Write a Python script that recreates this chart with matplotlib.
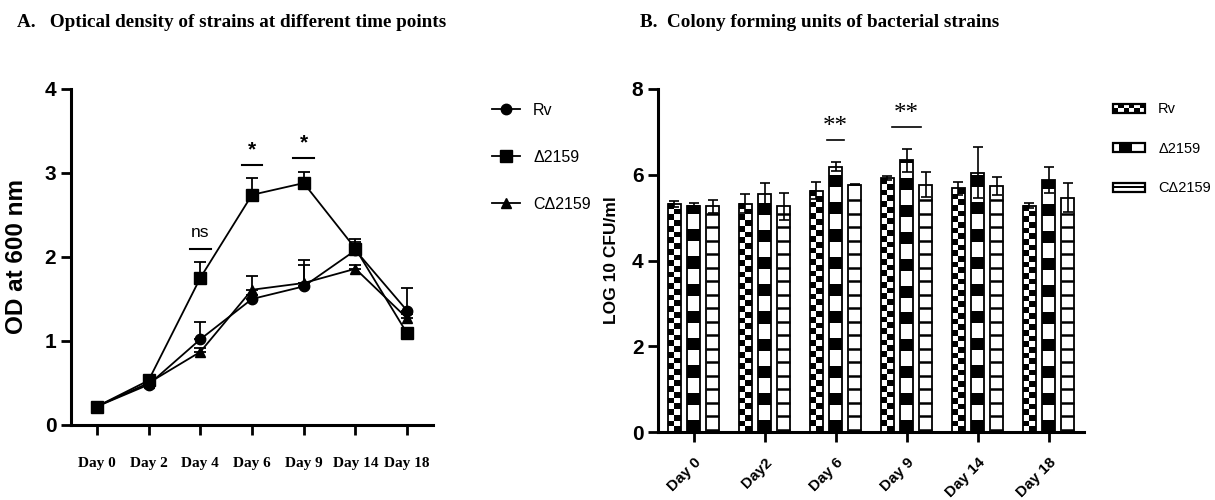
import numpy as np
import matplotlib
matplotlib.use("Agg")
import matplotlib.pyplot as plt
from matplotlib.patches import Rectangle
from matplotlib.lines import Line2D
from matplotlib.legend_handler import HandlerBase

NARROW = ['Liberation Sans Narrow', 'Liberation Sans', 'DejaVu Sans']
SANS = ['Liberation Sans', 'DejaVu Sans']
SERIF = ['Liberation Serif', 'DejaVu Serif']

# panel A: optical density
days_a = ['Day 0', 'Day 2', 'Day 4', 'Day 6', 'Day 9', 'Day 14', 'Day 18']
rv_od = [0.22, 0.48, 1.02, 1.50, 1.65, 2.08, 1.36]
rv_od_err = [0.03, 0.03, 0.21, 0.05, 0.32, 0.10, 0.27]
d_od = [0.22, 0.53, 1.75, 2.74, 2.88, 2.10, 1.09]
d_od_err = [0.03, 0.03, 0.19, 0.20, 0.13, 0.12, 0.05]
c_od = [0.22, 0.50, 0.87, 1.61, 1.69, 1.86, 1.27]
c_od_err = [0.02, 0.02, 0.05, 0.16, 0.22, 0.04, 0.05]
sig_a = [(2, 2.10, 'ns'), (3, 3.10, '*'), (4, 3.18, '*')]

# panel B: colony forming units
days_b = ['Day 0', 'Day2', 'Day 6', 'Day 9', 'Day 14', 'Day 18']
rv_cfu = [5.32, 5.32, 5.63, 5.92, 5.68, 5.28]
rv_cfu_err = [0.07, 0.22, 0.20, 0.05, 0.15, 0.05]
d_cfu = [5.28, 5.55, 6.19, 6.34, 6.05, 5.87]
d_cfu_err = [0.07, 0.25, 0.11, 0.27, 0.59, 0.30]
c_cfu = [5.26, 5.26, 5.77, 5.77, 5.74, 5.46]
c_cfu_err = [0.16, 0.32, 0.02, 0.30, 0.21, 0.34]
sig_b = [(2, 6.80, 0.12), (3, 7.11, 0.20)]

strains = ['Rv', 'Δ2159', 'CΔ2159']

fig = plt.figure(figsize=(12.15, 5.0), dpi=100)

fig.text(0.014, 0.955, 'A.   Optical density of strains at different time points',
         family=SERIF, fontweight='bold', fontsize=13.8, va='center')
fig.text(0.527, 0.955, 'B.  Colony forming units of bacterial strains',
         family=SERIF, fontweight='bold', fontsize=13.8, va='center')


def style_axes(ax):
    for s in ['top', 'right']:
        ax.spines[s].set_visible(False)
    for s in ['left', 'bottom']:
        ax.spines[s].set_linewidth(2.2)
    ax.tick_params(axis='both', length=7, width=2)


# ---------- panel A ----------
ax1 = fig.add_axes([0.0584, 0.15, 0.298, 0.672])
x = np.arange(len(days_a))
markers = ['o', 's', '^']
msizes = [7.5, 8.5, 7.5]
for vals, err, m, ms in zip([rv_od, d_od, c_od], [rv_od_err, d_od_err, c_od_err],
                            markers, msizes):
    ax1.errorbar(x, vals, yerr=[np.zeros(len(err)), err], fmt='none', ecolor='black',
                 elinewidth=1.3, capsize=4.5, capthick=1.3, zorder=2)
    ax1.plot(x, vals, marker=m, ms=ms, color='black', lw=1.3, zorder=3)

for xi, y, txt in sig_a:
    ax1.plot([xi - 0.2, xi + 0.2], [y, y], color='black', lw=1.5)
    if txt == 'ns':
        ax1.text(xi, y + 0.1, txt, ha='center', va='bottom', fontsize=12.5, family=NARROW)
    else:
        ax1.text(xi, y + 0.06, txt, ha='center', va='bottom', fontsize=15,
                 fontweight='bold', family=SANS)

style_axes(ax1)
ax1.set_xlim(-0.5, 6.5)
ax1.set_ylim(0, 4)
ax1.set_yticks([0, 1, 2, 3, 4])
ax1.set_xticks(x)
ax1.set_xticklabels(days_a, family=SERIF, fontweight='bold', fontsize=11)
for t in ax1.get_yticklabels():
    t.set_family(NARROW)
    t.set_fontweight('bold')
    t.set_fontsize(15)
ax1.tick_params(axis='x', pad=16)
ax1.set_ylabel('OD at 600 nm', family=SANS, fontweight='bold', fontsize=17.5, labelpad=12)

h_a = [Line2D([], [], color='black', lw=1.3, marker=m, ms=ms) for m, ms in zip(markers, msizes)]
fig.legend(h_a, strains, loc='upper left', bbox_to_anchor=(0.398, 0.81), frameon=False,
           prop={'family': NARROW, 'size': 11.5}, labelspacing=2.0,
           handlelength=1.8, handletextpad=0.8, borderpad=0)

# ---------- panel B ----------
ax2 = fig.add_axes([0.5416, 0.136, 0.3506, 0.686])
xb = np.arange(len(days_b))
bw = 0.18
offsets = [-0.27, 0.0, 0.27]


def checker(h):
    rows = max(int(round(h * 7.5)), 1)
    return (np.indices((rows, 2)).sum(axis=0) % 2).astype(float)


def blocks(h):
    # black 4 / white 5 sub-rows, period ~0.63 units
    rows = max(int(round(h / 0.63 * 9)), 1)
    pat = ((np.arange(rows) % 9) < 4).astype(float)
    return pat[:, None]


for k, (vals, err) in enumerate(zip([rv_cfu, d_cfu, c_cfu], [rv_cfu_err, d_cfu_err, c_cfu_err])):
    bars = ax2.bar(xb + offsets[k], vals, width=bw, facecolor='none', edgecolor='black',
                   lw=1.3, zorder=3)
    for b in bars:
        bx, bwid, bh = b.get_x(), b.get_width(), b.get_height()
        if k == 2:
            ax2.hlines(np.arange(0.05, bh - 0.1, 0.315), bx, bx + bwid, color='black',
                       lw=1.8, zorder=2)
        else:
            pat = checker(bh) if k == 0 else blocks(bh)
            ax2.imshow(pat, cmap='gray_r', vmin=0, vmax=1, origin='lower',
                       extent=[bx, bx + bwid, 0, bh], aspect='auto',
                       interpolation='nearest', zorder=2)
    ax2.errorbar(xb + offsets[k], vals, yerr=err, fmt='none', ecolor='black',
                 elinewidth=1.2, capsize=3.5, capthick=1.2, zorder=4)

for xi, y, half in sig_b:
    ax2.plot([xi - half, xi + half], [y, y], color='black', lw=1.2)
    ax2.text(xi, y + 0.05, '**', ha='center', va='bottom', fontsize=18, family=SERIF)

style_axes(ax2)
ax2.set_xlim(-0.5, 5.5)
ax2.set_ylim(0, 8)
ax2.set_yticks([0, 2, 4, 6, 8])
ax2.set_xticks(xb)
ax2.set_xticklabels(days_b, rotation=45, ha='right', rotation_mode='anchor',
                    family=SANS, fontweight='bold', fontsize=11)
for t in ax2.get_yticklabels():
    t.set_family(NARROW)
    t.set_fontweight('bold')
    t.set_fontsize(15)
ax2.tick_params(axis='x', pad=10)
ax2.set_ylabel('LOG 10 CFU/ml', family=SANS, fontweight='bold', fontsize=12.5, labelpad=9)


class PatternHandler(HandlerBase):
    def __init__(self, kind):
        super().__init__()
        self.kind = kind

    def create_artists(self, legend, orig_handle, xdescent, ydescent, width, height,
                       fontsize, trans):
        x0, y0 = -xdescent, -ydescent
        arts = [Rectangle((x0, y0), width, height, facecolor='white', lw=0, transform=trans)]
        if self.kind == 'checker':
            n = 6
            for i in range(n):
                for j in range(2):
                    if (i + j) % 2 == 0:
                        arts.append(Rectangle((x0 + i * width / n, y0 + j * height / 2),
                                              width / n, height / 2, facecolor='black',
                                              lw=0, transform=trans))
        elif self.kind == 'block':
            arts.append(Rectangle((x0 + 0.2 * width, y0), 0.38 * width, height,
                                  facecolor='black', lw=0, transform=trans))
        else:
            arts.append(Rectangle((x0, y0 + 0.35 * height), width, 0.3 * height,
                                  facecolor='black', lw=0, transform=trans))
        arts.append(Rectangle((x0, y0), width, height, fill=False, edgecolor='black',
                              lw=1.6, transform=trans))
        return arts


h_b = [Rectangle((0, 0), 1, 1) for _ in strains]
hmap = {h_b[0]: PatternHandler('checker'), h_b[1]: PatternHandler('block'),
        h_b[2]: PatternHandler('line')}
fig.legend(h_b, strains, handler_map=hmap, loc='upper left', bbox_to_anchor=(0.910, 0.81),
           frameon=False, prop={'family': NARROW, 'size': 10.5}, labelspacing=1.75,
           handlelength=2.2, handleheight=0.55, handletextpad=0.9, borderpad=0)

fig.savefig('out.png', dpi=100)
